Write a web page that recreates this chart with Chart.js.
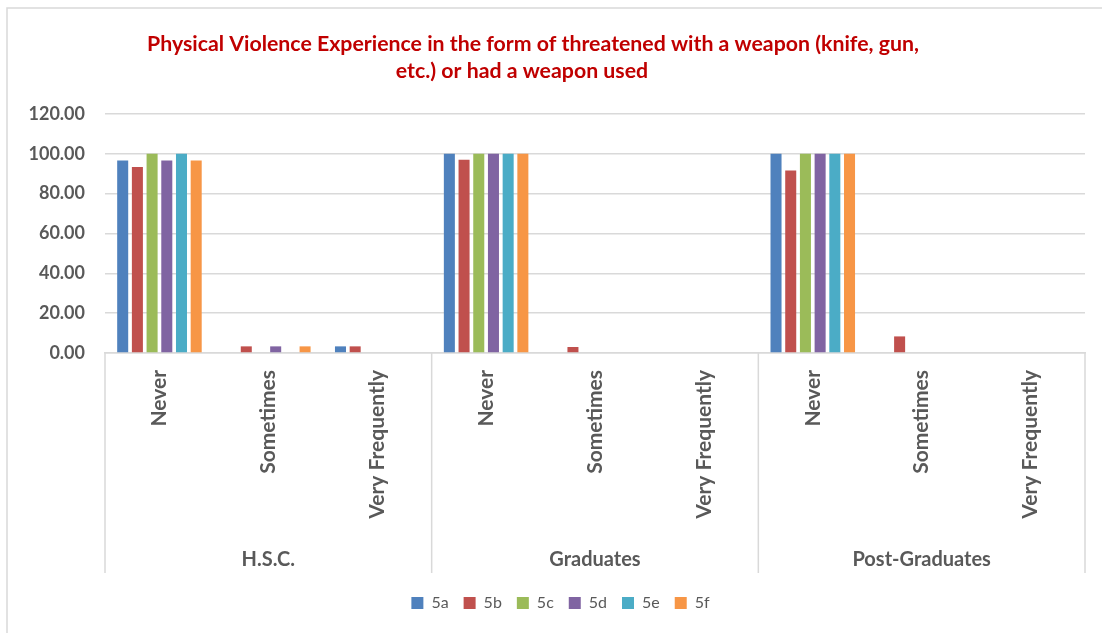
<!DOCTYPE html>
<html>
<head>
<meta charset="utf-8">
<script src="https://cdn.jsdelivr.net/npm/chart.js@4/dist/chart.umd.min.js"></script>
<style>
  html, body { margin: 0; padding: 0; background: #fff; }
  #wrap { width: 1102px; height: 633px; }
</style>
</head>
<body>
<div id="wrap"><canvas id="chart" width="1102" height="633"></canvas></div>
<script>
// categories
const groups = ["H.S.C.", "Graduates", "Post-Graduates"];
const answers = ["Never", "Sometimes", "Very Frequently"];
const labels = groups.flatMap(() => answers);

// series values (percent), in label order
const s5a = [96.67, 0, 3.33, 100, 0, 0, 100, 0, 0];
const s5b = [93.33, 3.33, 3.33, 97.0, 3.0, 0, 91.67, 8.33, 0];
const s5c = [100, 0, 0, 100, 0, 0, 100, 0, 0];
const s5d = [96.67, 3.33, 0, 100, 0, 0, 100, 0, 0];
const s5e = [100, 0, 0, 100, 0, 0, 100, 0, 0];
const s5f = [96.67, 3.33, 0, 100, 0, 0, 100, 0, 0];

const seriesNames = ["5a", "5b", "5c", "5d", "5e", "5f"];
const seriesData = [s5a, s5b, s5c, s5d, s5e, s5f];
const colors = ["#4F81BD", "#C0504D", "#9BBB59", "#8064A2", "#4BACC6", "#F79646"];

const titleLines = [
  "Physical Violence Experience in the form of threatened with a weapon (knife, gun,",
  "etc.) or had a weapon used"
];

const grey = "#595959";
const lineGrey = "#d9d9d9";

// title, outer frame and the second level of the category axis
const decorations = {
  id: "decorations",
  afterLayout(chart) {
    // legend sits a little right of the canvas centre in the original
    chart.legend.left += 36;
  },
  afterDraw(chart) {
    const ctx = chart.ctx;
    const x = chart.scales.x;
    const area = chart.chartArea;
    ctx.save();

    // frame
    ctx.strokeStyle = lineGrey;
    ctx.lineWidth = 1.5;
    ctx.beginPath();
    ctx.moveTo(7, 633);
    ctx.lineTo(7, 8);
    ctx.lineTo(1102, 8);
    ctx.stroke();

    // title
    ctx.fillStyle = "#C00000";
    ctx.font = "bold 21.3px Lato";
    ctx.textAlign = "center";
    ctx.textBaseline = "middle";
    ctx.fillText(titleLines[0], 533, 44);
    ctx.fillText(titleLines[1], 522, 71);

    // group separators
    const n = answers.length;
    const bottomY = 573;
    const edges = [area.left];
    for (let g = 1; g < groups.length; g++) {
      edges.push((x.getPixelForValue(g * n - 1) + x.getPixelForValue(g * n)) / 2);
    }
    edges.push(area.right);
    ctx.strokeStyle = lineGrey;
    ctx.lineWidth = 1.5;
    edges.forEach((ex) => {
      ctx.beginPath();
      ctx.moveTo(ex, area.bottom);
      ctx.lineTo(ex, bottomY);
      ctx.stroke();
    });

    // group labels
    ctx.fillStyle = grey;
    ctx.font = "bold 20px Lato";
    groups.forEach((g, i) => {
      ctx.fillText(g, (edges[i] + edges[i + 1]) / 2, 560);
    });
    ctx.restore();
  }
};

new Chart(document.getElementById("chart").getContext("2d"), {
  type: "bar",
  data: {
    labels: labels,
    datasets: seriesNames.map((name, i) => ({
      label: name,
      data: seriesData[i],
      backgroundColor: colors[i],
      borderWidth: 0,
      categoryPercentage: 0.81,
      barPercentage: 0.75,
    })),
  },
  options: {
    responsive: false,
    animation: false,
    layout: { padding: { top: 114, right: 17, bottom: 12, left: 0 } },
    plugins: {
      title: { display: false },
      tooltip: { enabled: false },
      legend: {
        position: "bottom",
        labels: {
          boxWidth: 12,
          boxHeight: 12,
          padding: 15,
          color: grey,
          font: { family: "Lato", size: 16 },
        },
      },
    },
    scales: {
      x: {
        grid: { display: false, drawTicks: false },
        border: { color: lineGrey, width: 1.5 },
        ticks: {
          minRotation: 90,
          maxRotation: 90,
          padding: 17,
          autoSkip: false,
          color: grey,
          font: { family: "Lato", size: 21, weight: "bold" },
        },
        afterFit(scale) {
          scale.height = 227;
        },
      },
      y: {
        min: 0,
        max: 120,
        grid: { color: lineGrey, lineWidth: 1.5, drawTicks: false },
        border: { display: false },
        ticks: {
          stepSize: 20,
          padding: 20,
          color: grey,
          font: { family: "Lato", size: 18, weight: "bold" },
          callback: (v) => v.toFixed(2),
        },
        afterFit(scale) {
          scale.width = 105;
        },
      },
    },
  },
  plugins: [decorations],
});
</script>
</body>
</html>
